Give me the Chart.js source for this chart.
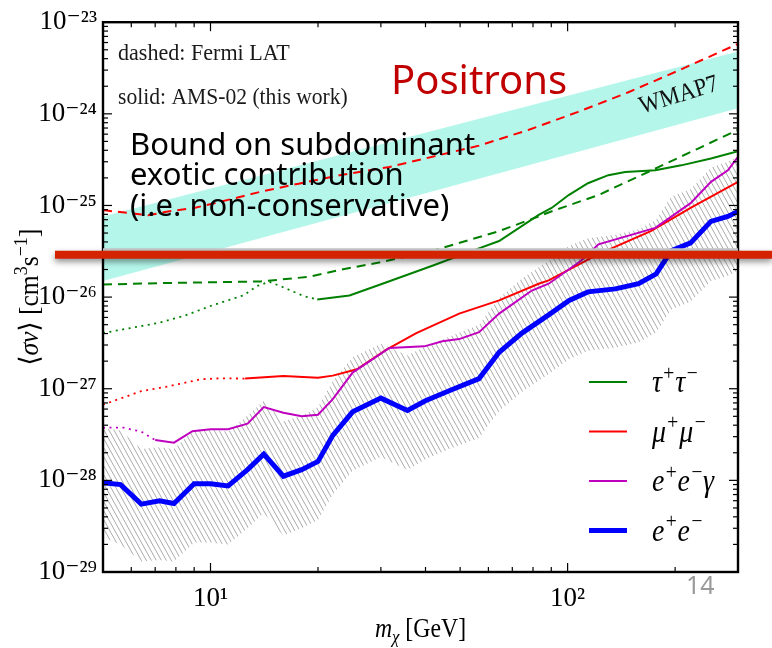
<!DOCTYPE html>
<html>
<head>
<meta charset="utf-8">
<script src="https://cdn.jsdelivr.net/npm/chart.js@4.4.1/dist/chart.umd.min.js"></script>
<style>
  html, body { margin: 0; padding: 0; background: #fff; }
  #wrap { width: 772px; height: 648px; }
</style>
</head>
<body>
<div id="wrap"><canvas id="limits"></canvas></div>
<script>
// annihilation cross-section limits vs. DM mass (log-log)
const xMin = 5, xMax = 300;
const yMin = 1e-29, yMax = 1e-23;
const xTickValues = [10, 100];
const yTickValues = [1e-29, 1e-28, 1e-27, 1e-26, 1e-25, 1e-24, 1e-23];

// WMAP7 band, straight edges
const wmapMass = [5, 300];
const wmapLow = [1.5e-26, 1.15e-24];
const wmapHigh = [7.6e-26, 4.8e-24];

// Fermi LAT (dashed)
const fermiTauMass = [5, 7.3, 10, 13.8, 19, 23, 30, 41.8, 64.3, 83, 90, 122, 168, 232, 300];
const fermiTauSv = [1.37e-26, 1.42e-26, 1.45e-26, 1.48e-26, 1.67e-26, 1.98e-26, 2.41e-26, 3.2e-26, 5.25e-26, 7.6e-26, 8.6e-26, 1.3e-25, 2.32e-25, 4.18e-25, 6.7e-25];
const fermiMuMass = [5, 6.7, 7.6, 9, 10.7, 13.8, 17.8, 23, 31.7, 56.5, 77.9, 107, 148, 204, 300];
const fermiMuSv = [8.9e-26, 7.8e-26, 8.6e-26, 9.4e-26, 1.1e-25, 1.41e-25, 1.74e-25, 2.14e-25, 2.63e-25, 4.5e-25, 6.7e-25, 1.05e-24, 1.72e-24, 2.96e-24, 5.8e-24];

// AMS-02 tau+tau- (solid, dotted below 20 GeV)
const tauMass = [19.9, 24.5, 30.3, 41.8, 54, 64.3, 83, 90.2, 100.7, 114, 130, 145, 176, 208, 252, 300];
const tauSv = [9.4e-27, 1.04e-26, 1.4e-26, 2.2e-26, 3.19e-26, 4.09e-26, 7.9e-26, 9.4e-26, 1.3e-25, 1.75e-25, 2.14e-25, 2.32e-25, 2.42e-25, 2.74e-25, 3.26e-25, 3.9e-25];
const tauLowMass = [5, 7.1, 8.4, 10, 12.4, 13.5, 14.6, 15.9, 18.2, 19.9];
const tauLowSv = [4.05e-27, 5.2e-27, 6.2e-27, 8.0e-27, 1.05e-26, 1.32e-26, 1.47e-26, 1.29e-26, 1.03e-26, 9.4e-27];

// AMS-02 mu+mu-
const muMass = [12.5, 16, 20, 22, 25.7, 31.1, 37.7, 49.7, 64.3, 83, 88.5, 122, 171, 221, 300];
const muSv = [1.29e-27, 1.38e-27, 1.32e-27, 1.39e-27, 1.63e-27, 2.67e-27, 4.05e-27, 6.6e-27, 9.2e-27, 1.4e-26, 1.52e-26, 2.94e-26, 5.24e-26, 9.4e-26, 1.81e-25];
const muLowMass = [5, 6.4, 7.6, 9.4, 10.7, 12.5];
const muLowSv = [6.7e-28, 9.4e-28, 1.06e-27, 1.27e-27, 1.3e-27, 1.29e-27];

// AMS-02 e+e-gamma
const eegMass = [7.0, 7.9, 8.9, 10, 11.2, 12.7, 14.1, 16, 18, 20, 22, 25, 31.7, 39.7, 44.6, 49.7, 56.5, 64.3, 79.4, 88.5, 109, 122, 176, 221, 252, 281, 300];
const eegSv = [2.75e-28, 2.58e-28, 3.44e-28, 3.62e-28, 3.62e-28, 4.16e-28, 6.3e-28, 5.46e-28, 5.0e-28, 5.2e-28, 7.7e-28, 1.5e-27, 2.79e-27, 2.9e-27, 3.29e-27, 3.48e-27, 4.14e-27, 6.6e-27, 1.18e-26, 1.4e-26, 2.49e-26, 3.77e-26, 5.7e-26, 1.06e-25, 1.81e-25, 2.42e-25, 3.4e-25];
const eegLowMass = [5, 5.7, 6.4, 7.0];
const eegLowSv = [3.75e-28, 3.77e-28, 3.4e-28, 2.75e-28];

// AMS-02 e+e- and its hatched uncertainty band
const eeMass = [5, 5.6, 6.4, 7.2, 7.9, 9.0, 10, 11.2, 12.7, 14.1, 16, 18, 20, 22, 25, 30, 35.6, 40, 46.6, 56.5, 64.3, 74.5, 88.5, 101, 114, 136, 158, 177, 195, 221, 252, 281, 300];
const eeSv = [9.4e-29, 9.0e-29, 5.5e-29, 6.0e-29, 5.6e-29, 9.2e-29, 9.2e-29, 8.7e-29, 1.31e-28, 1.93e-28, 1.11e-28, 1.31e-28, 1.61e-28, 3.1e-28, 5.6e-28, 7.9e-28, 5.8e-28, 7.4e-28, 9.5e-28, 1.29e-27, 2.5e-27, 4.05e-27, 6.4e-27, 9.2e-27, 1.14e-26, 1.23e-26, 1.4e-26, 1.79e-26, 3.2e-26, 3.9e-26, 6.7e-26, 7.6e-26, 8.6e-26];
const eeBandHigh = [3.7e-28, 3.5e-28, 2.2e-28, 2.3e-28, 2.2e-28, 3.6e-28, 3.6e-28, 3.4e-28, 5.1e-28, 7.4e-28, 4.4e-28, 5.1e-28, 6.3e-28, 1.2e-27, 2.2e-27, 3.1e-27, 2.3e-27, 2.9e-27, 3.7e-27, 5.0e-27, 9.8e-27, 1.6e-26, 2.5e-26, 3.6e-26, 4.4e-26, 4.8e-26, 5.5e-26, 7.0e-26, 1.25e-25, 1.5e-25, 2.6e-25, 3.0e-25, 3.4e-25];
const eeBandLow = [2.4e-29, 2.0e-29, 1.3e-29, 1.35e-29, 1.3e-29, 2.1e-29, 2.1e-29, 2.0e-29, 3.0e-29, 4.4e-29, 2.5e-29, 3.0e-29, 3.7e-29, 7.0e-29, 1.27e-28, 1.8e-28, 1.3e-28, 1.7e-28, 2.2e-28, 2.9e-28, 5.7e-28, 9.2e-28, 1.45e-27, 2.1e-27, 2.6e-27, 2.8e-27, 3.2e-27, 4.1e-27, 7.3e-27, 8.9e-27, 1.5e-26, 1.7e-26, 1.95e-26];

// horizontal bound marker
const boundSv = 2.9e-26;

const SERIF = '"Liberation Serif", "DejaVu Serif", serif';
const SANS = '"Noto Sans", "Open Sans", sans-serif';

const pts = (xs, ys) => xs.map((x, i) => ({x: x, y: ys[i]}));

const SUP = {'-': '⁻', '0': '⁰', '1': '¹', '2': '²', '3': '³', '4': '⁴', '5': '⁵', '6': '⁶', '7': '⁷', '8': '⁸', '9': '⁹'};
function powerLabel(v) {
    const e = String(Math.round(Math.log10(v)));
    return '10' + e.split('').map(c => SUP[c]).join('');
}

// diagonal hatch used for the e+e- band
function hatchPattern() {
    const c = document.createElement('canvas');
    c.width = 5; c.height = 9;
    const g = c.getContext('2d');
    g.strokeStyle = '#ababab';
    g.lineWidth = 1;
    for (const dx of [-5, 0, 5]) {
        g.beginPath();
        g.moveTo(dx, 0);
        g.lineTo(dx + 5, 9);
        g.stroke();
    }
    return g.createPattern(c, 'repeat');
}

// text with '^' superscript, '_' subscript; '|' toggles italic
function drawMath(ctx, spec, x, y, size, align, squeeze) {
    const runs = [];
    spec.split('|').forEach((seg, i) => {
        for (let k = 0; k < seg.length; k++) {
            let ch = seg[k], shift = 0, scale = 1;
            if (ch === '^' || ch === '_') {
                shift = ch === '^' ? -0.4 : 0.22;
                scale = 0.7;
                ch = seg[++k];
            }
            runs.push({ch: ch, italic: i % 2 === 1, shift: shift, scale: scale});
        }
    });
    const fontOf = r => (r.italic ? 'italic ' : '') + (size * r.scale) + 'px ' + SERIF;
    let total = 0;
    runs.forEach(r => { ctx.font = fontOf(r); r.w = ctx.measureText(r.ch).width; total += r.w; });
    const sx = squeeze || 1;
    ctx.save();
    ctx.translate(x, y);
    ctx.scale(sx, 1);
    let cx = align === 'center' ? -total / 2 : 0;
    runs.forEach(r => {
        ctx.font = fontOf(r);
        ctx.fillText(r.ch, cx, r.shift * size);
        cx += r.w;
    });
    ctx.restore();
}

// narrow serif text, a bit taller than wide
function squeezedText(ctx, text, x, y, sx) {
    ctx.save();
    ctx.translate(x, y);
    ctx.scale(sx, 1);
    ctx.fillText(text, 0, 0);
    ctx.restore();
}

function decadeMinors(lo, hi) {
    const out = [];
    for (let k = Math.floor(Math.log10(lo)); k <= Math.ceil(Math.log10(hi)); k++) {
        for (let m = 2; m <= 9; m++) {
            const v = m * Math.pow(10, k);
            if (v > lo * 1.0001 && v < hi * 0.9999) out.push(v);
        }
    }
    return out;
}

// black frame with inward ticks on all four sides
const framePlugin = {
    id: 'frame',
    afterDatasetsDraw(chart) {
        const {ctx, chartArea: a, scales: {x, y}} = chart;
        ctx.save();
        ctx.strokeStyle = '#000';
        ctx.lineWidth = 1.2;
        const tick = (x0, y0, x1, y1) => { ctx.beginPath(); ctx.moveTo(x0, y0); ctx.lineTo(x1, y1); ctx.stroke(); };
        xTickValues.forEach(v => {
            const px = x.getPixelForValue(v);
            tick(px, a.bottom, px, a.bottom - 9);
            tick(px, a.top, px, a.top + 9);
        });
        decadeMinors(xMin, xMax).forEach(v => {
            const px = x.getPixelForValue(v);
            tick(px, a.bottom, px, a.bottom - 5);
            tick(px, a.top, px, a.top + 5);
        });
        yTickValues.forEach(v => {
            const py = y.getPixelForValue(v);
            tick(a.left, py, a.left + 9, py);
            tick(a.right, py, a.right - 9, py);
        });
        decadeMinors(yMin, yMax).forEach(v => {
            const py = y.getPixelForValue(v);
            tick(a.left, py, a.left + 5, py);
            tick(a.right, py, a.right - 5, py);
        });
        ctx.lineWidth = 2.4;
        ctx.strokeRect(a.left, a.top, a.right - a.left, a.bottom - a.top);
        ctx.restore();
    }
};

// titles, annotations, legend and the bound marker
const overlayPlugin = {
    id: 'overlay',
    afterDraw(chart) {
        const {ctx, chartArea: a, scales: {x, y}} = chart;
        ctx.save();
        ctx.textBaseline = 'alphabetic';
        ctx.fillStyle = '#000';

        // axis titles
        drawMath(ctx, '|m_χ| [GeV]', (a.left + a.right) / 2, 637, 27, 'center', 0.88);
        ctx.save();
        ctx.translate(38, (a.top + a.bottom) / 2);
        ctx.rotate(-Math.PI / 2);
        drawMath(ctx, '⟨|σv|⟩ [cm^3s^−^1]', 0, 0, 27, 'center', 0.95);
        ctx.restore();

        // WMAP7 label along the band
        const x0 = x.getPixelForValue(wmapMass[0]), x1 = x.getPixelForValue(wmapMass[1]);
        const yHi0 = y.getPixelForValue(wmapHigh[0]), yHi1 = y.getPixelForValue(wmapHigh[1]);
        const yLo0 = y.getPixelForValue(wmapLow[0]), yLo1 = y.getPixelForValue(wmapLow[1]);
        const tx = x.getPixelForValue(205);
        const f = (tx - x0) / (x1 - x0);
        const ty = ((yHi0 + (yHi1 - yHi0) * f) + (yLo0 + (yLo1 - yLo0) * f)) / 2;
        const ang = Math.atan2(((yHi1 + yLo1) - (yHi0 + yLo0)) / 2, x1 - x0);
        ctx.save();
        ctx.translate(tx, ty);
        ctx.rotate(ang * 1.15);
        ctx.scale(0.9, 1);
        ctx.font = '25px ' + SERIF;
        ctx.textAlign = 'center';
        ctx.textBaseline = 'middle';
        ctx.fillStyle = '#111';
        ctx.fillText('WMAP7', 0, 0);
        ctx.restore();

        // line-style notes
        ctx.font = '24px ' + SERIF;
        ctx.fillStyle = '#1a1a1a';
        squeezedText(ctx, 'dashed: Fermi LAT', a.left + 15, a.top + 38, 0.92);
        squeezedText(ctx, 'solid: AMS-02 (this work)', a.left + 15, a.top + 82, 0.9);

        ctx.font = '40px ' + SANS;
        ctx.fillStyle = '#c00000';
        ctx.fillText('Positrons', a.left + 288, a.top + 72);

        // legend, bottom right
        let row = 0;
        chart.data.datasets.forEach(ds => {
            if (!ds.legendText) return;
            const ly = a.bottom - 190 + row * 49.5;
            ctx.strokeStyle = ds.borderColor;
            ctx.lineWidth = ds.borderWidth;
            ctx.beginPath();
            ctx.moveTo(a.right - 149, ly);
            ctx.lineTo(a.right - 111, ly);
            ctx.stroke();
            ctx.fillStyle = '#000';
            drawMath(ctx, ds.legendText, a.right - 86, ly + 10, 31, 'left', 0.9);
            row++;
        });

        // horizontal bound marker
        const by = y.getPixelForValue(boundSv);
        ctx.strokeStyle = '#c8c8c8';
        ctx.lineWidth = 3;
        ctx.beginPath();
        ctx.moveTo(a.left, by - 5);
        ctx.lineTo(a.right, by - 5);
        ctx.stroke();
        ctx.save();
        ctx.shadowColor = 'rgba(0,0,0,0.45)';
        ctx.shadowBlur = 6;
        ctx.shadowOffsetY = 3;
        ctx.strokeStyle = '#d42300';
        ctx.lineWidth = 8;
        ctx.beginPath();
        ctx.moveTo(a.left - 48, by);
        ctx.lineTo(chart.width, by);
        ctx.stroke();
        ctx.restore();

        // overlay note
        ctx.font = '31px ' + SANS;
        ctx.fillStyle = '#000';
        ctx.fillText('Bound on subdominant', a.left + 27, a.top + 133);
        ctx.fillText('exotic contribution', a.left + 27, a.top + 163);
        ctx.fillText('(i.e. non-conservative)', a.left + 27, a.top + 194);

        // page number
        ctx.font = '25px ' + SANS;
        ctx.fillStyle = '#9a9a9a';
        ctx.fillText('14', a.right - 52, a.bottom + 22);
        ctx.restore();
    }
};

const line = (data, color, width, extra) => Object.assign({
    data: data,
    borderColor: color,
    backgroundColor: color,
    borderWidth: width,
    pointRadius: 0,
    tension: 0,
    fill: false
}, extra || {});

const dotted = {borderDash: [2, 4.5]};
const dashed = {borderDash: [9, 6]};

const datasets = [
    line(pts(tauMass, tauSv), '#008000', 2, {legendText: '|τ^+τ^−', order: 3}),
    line(pts(muMass, muSv), '#ff0000', 2, {legendText: '|μ^+μ^−', order: 2}),
    line(pts(eegMass, eegSv), '#bf00bf', 2, {legendText: '|e^+e^−γ', order: 1}),
    line(pts(eeMass, eeSv), '#0000ff', 5, {legendText: '|e^+e^−', order: 0}),
    line(pts(tauLowMass, tauLowSv), '#008000', 1.8, Object.assign({order: 3}, dotted)),
    line(pts(muLowMass, muLowSv), '#ff0000', 1.8, Object.assign({order: 2}, dotted)),
    line(pts(eegLowMass, eegLowSv), '#bf00bf', 1.8, Object.assign({order: 1}, dotted)),
    line(pts(fermiTauMass, fermiTauSv), '#008000', 2, Object.assign({order: 4}, dashed)),
    line(pts(fermiMuMass, fermiMuSv), '#ff0000', 2, Object.assign({order: 4}, dashed)),
];
const bandLowIdx = datasets.length;
datasets.push(line(pts(eeMass, eeBandLow), 'rgba(0,0,0,0)', 0, {order: 8}));
datasets.push(line(pts(eeMass, eeBandHigh), 'rgba(0,0,0,0)', 0, {order: 8, fill: bandLowIdx, backgroundColor: hatchPattern()}));
const wmapLowIdx = datasets.length;
datasets.push(line(pts(wmapMass, wmapLow), 'rgba(0,0,0,0)', 0, {order: 9}));
datasets.push(line(pts(wmapMass, wmapHigh), 'rgba(0,0,0,0)', 0, {order: 9, fill: wmapLowIdx, backgroundColor: '#b4f7ea'}));

new Chart(document.getElementById('limits'), {
    type: 'line',
    data: {datasets: datasets},
    options: {
        responsive: true,
        maintainAspectRatio: false,
        animation: false,
        devicePixelRatio: 1,
        layout: {padding: {left: 0, top: 15, right: 34, bottom: 0}},
        plugins: {
            legend: {display: false},
            tooltip: {enabled: false}
        },
        scales: {
            x: {
                type: 'logarithmic',
                min: xMin,
                max: xMax,
                grid: {display: false, drawTicks: false},
                border: {display: false},
                afterBuildTicks: s => { s.ticks = xTickValues.map(v => ({value: v})); },
                afterFit: s => { s.height = 76; },
                ticks: {
                    callback: v => powerLabel(v),
                    font: {family: SERIF, size: 27},
                    color: '#000',
                    padding: 11,
                    maxRotation: 0,
                    autoSkip: false
                }
            },
            y: {
                type: 'logarithmic',
                min: yMin,
                max: yMax,
                grid: {display: false, drawTicks: false},
                border: {display: false},
                afterBuildTicks: s => { s.ticks = yTickValues.map(v => ({value: v})); },
                afterFit: s => { s.width = 103; },
                ticks: {
                    callback: v => powerLabel(v),
                    font: {family: SERIF, size: 27},
                    color: '#000',
                    padding: 6,
                    autoSkip: false
                }
            }
        }
    },
    plugins: [framePlugin, overlayPlugin]
});
</script>
</body>
</html>
